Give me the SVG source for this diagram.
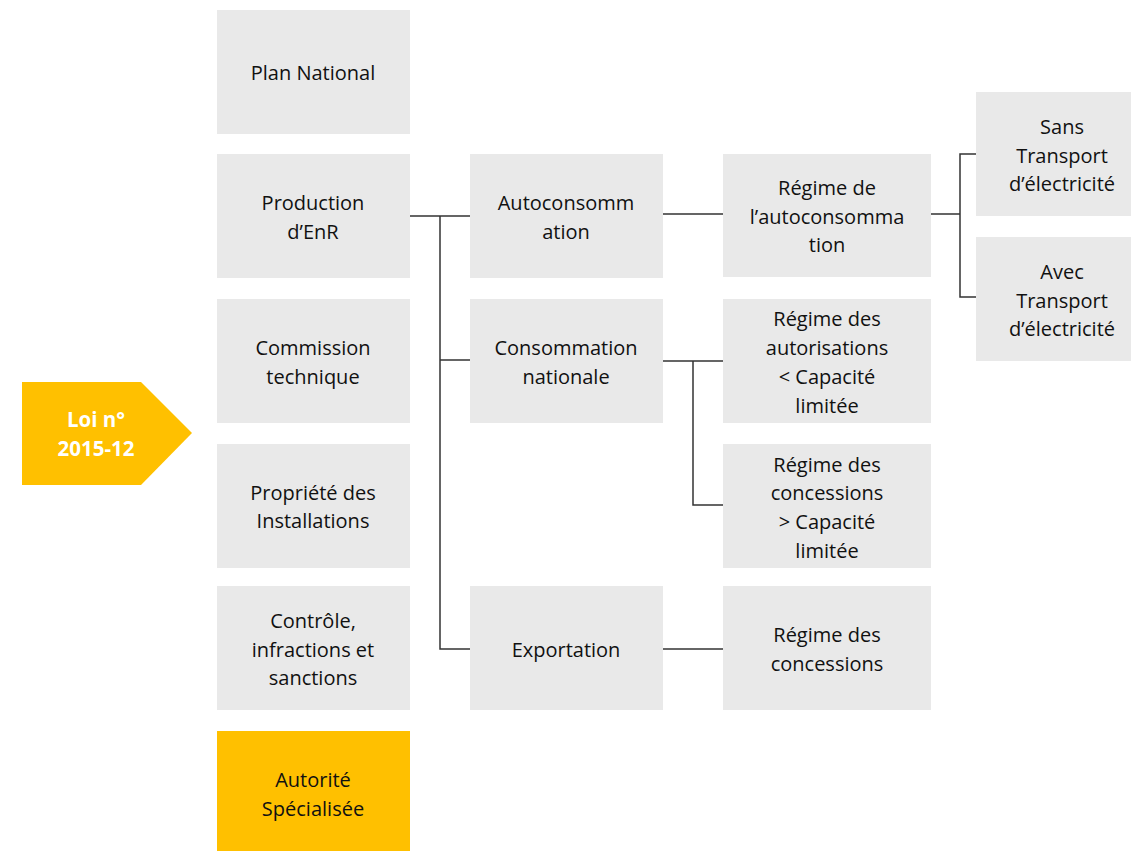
<svg xmlns="http://www.w3.org/2000/svg" width="1131" height="851" viewBox="0 0 1131 851">
<style>
.b{fill:#E9E9E9}
.g{fill:#FFC000}
text{font-family:"Open Sans","Liberation Sans",sans-serif;font-size:20px;fill:#111;text-anchor:middle;dominant-baseline:central}
.w{fill:#fff;font-weight:bold;font-size:20.5px}
.c{fill:none;stroke:#333;stroke-width:1.5}
</style>
<rect width="1131" height="851" fill="#fff"/>
<g id="connectors">
<path class="c" d="M410 216H470M440 216V649H470M440 360H470"/>
<path class="c" d="M663 214H723M931 214H960M976 154H960V297H976"/>
<path class="c" d="M663 361H723M693 361V505H723"/>
<path class="c" d="M663 649H723"/>
</g>
<g id="loi">
<polygon class="g" points="22,382 141,382 192,433 141,485 22,485"/>
<text class="w" x="96" y="419">Loi n°</text>
<text class="w" x="96" y="448">2015-12</text>
</g>
<g id="plan"><rect class="b" x="217" y="10" width="193" height="124"/><text x="313" y="72">Plan National</text></g>
<g id="production"><rect class="b" x="217" y="154" width="193" height="124"/><text x="313" y="202">Production</text><text x="313" y="231">d’EnR</text></g>
<g id="commission"><rect class="b" x="217" y="299" width="193" height="124"/><text x="313" y="347">Commission</text><text x="313" y="376">technique</text></g>
<g id="propriete"><rect class="b" x="217" y="444" width="193" height="124"/><text x="313" y="492">Propriété des</text><text x="313" y="520">Installations</text></g>
<g id="controle"><rect class="b" x="217" y="586" width="193" height="124"/><text x="313" y="620">Contrôle,</text><text x="313" y="649">infractions et</text><text x="313" y="677">sanctions</text></g>
<g id="autorite"><rect class="g" x="217" y="731" width="193" height="120"/><text x="313" y="779">Autorité</text><text x="313" y="808">Spécialisée</text></g>
<g id="autoconsommation"><rect class="b" x="470" y="154" width="193" height="124"/><text x="566" y="202">Autoconsomm</text><text x="566" y="231">ation</text></g>
<g id="consommation"><rect class="b" x="470" y="299" width="193" height="124"/><text x="566" y="347">Consommation</text><text x="566" y="376">nationale</text></g>
<g id="exportation"><rect class="b" x="470" y="586" width="193" height="124"/><text x="566" y="649">Exportation</text></g>
<g id="regime-auto"><rect class="b" x="723" y="154" width="208" height="123"/><text x="827" y="187">Régime de</text><text x="827" y="216">l’autoconsomma</text><text x="827" y="244">tion</text></g>
<g id="regime-autorisations"><rect class="b" x="723" y="299" width="208" height="124"/><text x="827" y="318">Régime des</text><text x="827" y="347">autorisations</text><text x="827" y="376">&lt; Capacité</text><text x="827" y="405">limitée</text></g>
<g id="regime-concessions-1"><rect class="b" x="723" y="444" width="208" height="124"/><text x="827" y="464">Régime des</text><text x="827" y="492">concessions</text><text x="827" y="521">&gt; Capacité</text><text x="827" y="550">limitée</text></g>
<g id="regime-concessions-2"><rect class="b" x="723" y="586" width="208" height="124"/><text x="827" y="634">Régime des</text><text x="827" y="663">concessions</text></g>
<g id="sans"><rect class="b" x="976" y="92" width="155" height="124"/><text x="1062" y="126">Sans</text><text x="1062" y="155">Transport</text><text x="1062" y="183">d’électricité</text></g>
<g id="avec"><rect class="b" x="976" y="237" width="155" height="124"/><text x="1062" y="271">Avec</text><text x="1062" y="300">Transport</text><text x="1062" y="328">d’électricité</text></g>
</svg>
